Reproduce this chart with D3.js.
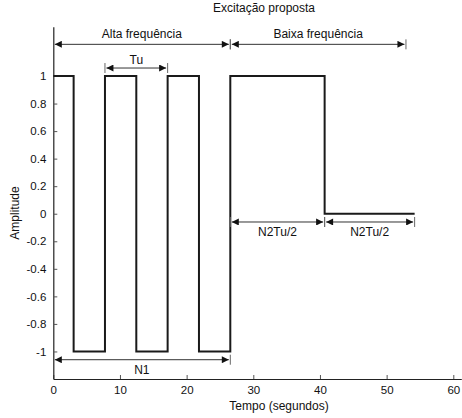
<!DOCTYPE html>
<html>
<head>
<meta charset="utf-8">
<script src="https://cdn.jsdelivr.net/npm/d3@7/dist/d3.min.js"></script>
<style>
  body { margin: 0; background: #fff; }
  svg text { font-family: "Liberation Sans", Arial, Helvetica, sans-serif; font-size: 12px; fill: #111; }
</style>
</head>
<body>
<svg width="462" height="418"></svg>
<script>
// square wave: switching times and the level held after each one
const stepTimes = [0, 3.05, 7.75, 12.45, 17.15, 21.85, 26.55, 40.7, 54.2];
const stepLevels = [1, -1, 1, -1, 1, -1, 1, 0, 0];

const xTicks = [0, 10, 20, 30, 40, 50, 60];
const yTicks = [-1, -0.8, -0.6, -0.4, -0.2, 0, 0.2, 0.4, 0.6, 0.8, 1];

// dimension arrows (data units): from, to, level, label
const dimFrom = [0, 26.55, 7.75, 0, 26.55, 40.7];
const dimTo = [26.55, 52.9, 17.15, 26.55, 40.7, 54.2];
const dimLevel = [1.23, 1.23, 1.058, -1.06, -0.06, -0.06];
const dimLabels = ["Alta frequência", "Baixa frequência", "Tu", "N1", "N2Tu/2", "N2Tu/2"];
const dimAbove = [true, true, true, false, false, false];

let svg = d3.select("svg");

let x = d3.scaleLinear().domain([0, 61.2]).range([53.3, 461.3]);
let y = d3.scaleLinear().domain([-1.2, 1.358]).range([379, 26.7]);

// axes (MATLAB style, ticks inward, no box)
let xAxis = d3.axisBottom(x).tickValues(xTicks).tickSize(-4).tickPadding(7).tickSizeOuter(0);
let gx = svg.append("g").attr("transform", `translate(0,${y(-1.2)})`).call(xAxis);
let yAxis = d3.axisLeft(y).tickValues(yTicks).tickSize(-4).tickPadding(7).tickSizeOuter(0)
    .tickFormat(d => String(+d.toFixed(1)));
let gy = svg.append("g").attr("transform", `translate(${x(0)},0)`).call(yAxis);

[gx, gy].forEach(g => {
    g.select(".domain").attr("stroke", "#222").attr("stroke-width", 1.2);
    g.selectAll(".tick line").attr("stroke", "#555");
    g.selectAll(".tick text").style("font-size", "11.5px").attr("fill", "#111");
});
gx.selectAll(".tick text").attr("dy", "0.71em");

// the signal
let pts = stepTimes.map((t, i) => [t, stepLevels[i]]);
let line = d3.line().x(d => x(d[0])).y(d => y(d[1])).curve(d3.curveStepAfter);
svg.append("path")
    .attr("d", line(pts))
    .attr("fill", "none")
    .attr("stroke", "#1a1a1a")
    .attr("stroke-width", 2);

// arrow heads
let defs = svg.append("defs");
defs.append("marker").attr("id", "ah")
    .attr("viewBox", "0 0 10 10").attr("refX", 10).attr("refY", 5)
    .attr("markerWidth", 8).attr("markerHeight", 7).attr("markerUnits", "userSpaceOnUse")
    .attr("orient", "auto-start-reverse")
    .append("path").attr("d", "M0,0L10,5L0,10z").attr("fill", "#111");

let dims = svg.append("g");
dimFrom.forEach((f, i) => {
    let x1 = x(f) + 1.5, x2 = x(dimTo[i]) - 1.5, yy = y(dimLevel[i]);
    dims.append("line")
        .attr("x1", x1).attr("x2", x2).attr("y1", yy).attr("y2", yy)
        .attr("stroke", "#333").attr("stroke-width", 1)
        .attr("marker-start", "url(#ah)").attr("marker-end", "url(#ah)");
    // little end bars
    [f, dimTo[i]].forEach(t => {
        if (t === 0) return;
        dims.append("line")
            .attr("x1", x(t)).attr("x2", x(t))
            .attr("y1", yy - 5).attr("y2", yy + 5)
            .attr("stroke", "#666").attr("stroke-width", 1);
    });
    dims.append("text")
        .attr("x", (x(f) + x(dimTo[i])) / 2)
        .attr("y", dimAbove[i] ? yy - (i === 2 ? 4.5 : 6.5) : yy + 14.5)
        .attr("text-anchor", "middle")
        .text(dimLabels[i]);
});

// titles
svg.append("text").attr("x", 264).attr("y", 12).attr("text-anchor", "middle").text("Excitação proposta");
svg.append("text").attr("x", 279).attr("y", 410).attr("text-anchor", "middle").text("Tempo (segundos)");
svg.append("text").attr("transform", "translate(19,213) rotate(-90)").attr("text-anchor", "middle").text("Amplitude");
</script>
</body>
</html>
